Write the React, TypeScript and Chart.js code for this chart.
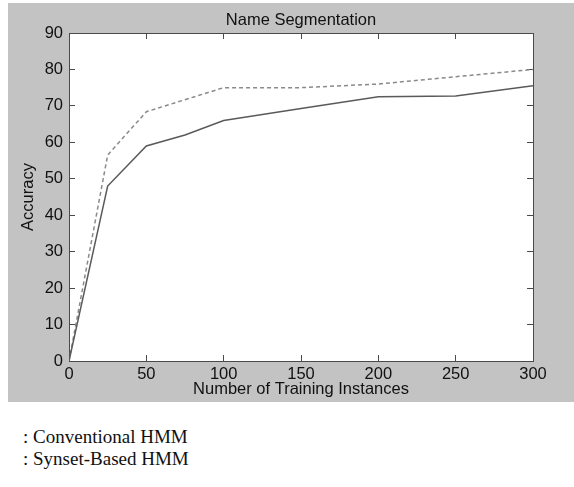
import React, { useEffect, useRef } from "react";
import { Chart, registerables } from "chart.js";

Chart.register(...registerables);

const chartTitle = "Name Segmentation";
const xAxisTitle = "Number of Training Instances";
const yAxisTitle = "Accuracy";

const conventionalX = [0, 25, 50, 75, 100, 150, 200, 250, 300];
const conventionalY = [0, 48, 59, 62, 66, 69.3, 72.5, 72.7, 75.5];

const synsetX = [0, 25, 50, 100, 150, 200, 250, 300];
const synsetY = [0, 56.5, 68.4, 75, 75, 76, 78, 80];

const legendLabels = [": Conventional HMM", ": Synset-Based HMM"];

const xMin = 0;
const xMax = 300;
const xStep = 50;
const yMin = 0;
const yMax = 90;
const yStep = 10;

const SANS = '"Liberation Sans", Arial, Helvetica, sans-serif';
const FRAME = "#4a4a4a";

const plotBg = {
  id: "plotBg",
  beforeDraw(chart: any) {
    const { ctx, chartArea } = chart;
    ctx.save();
    ctx.fillStyle = "#ffffff";
    ctx.fillRect(chartArea.left, chartArea.top, chartArea.right - chartArea.left, chartArea.bottom - chartArea.top);
    ctx.restore();
  },
};

export default function App() {
  const ref = useRef<HTMLCanvasElement | null>(null);

  useEffect(() => {
    if (!ref.current) return;
    const font = { family: SANS, size: 16.5 };
    const chart = new Chart(ref.current, {
      type: "line",
      data: {
        datasets: [
          {
            label: "Conventional HMM",
            data: conventionalX.map((x, i) => ({ x, y: conventionalY[i] })),
            borderColor: "#5a5a5a",
            borderWidth: 1.5,
            pointRadius: 0,
            tension: 0,
            fill: false,
          },
          {
            label: "Synset-Based HMM",
            data: synsetX.map((x, i) => ({ x, y: synsetY[i] })),
            borderColor: "#8a8a8a",
            borderWidth: 1.5,
            borderDash: [4, 3],
            pointRadius: 0,
            tension: 0,
            fill: false,
          },
        ],
      },
      options: {
        responsive: false,
        animation: false,
        devicePixelRatio: 1,
        layout: { padding: { left: 0, right: 41, top: 0, bottom: 0 } },
        plugins: {
          legend: { display: false },
          tooltip: { enabled: false },
          title: {
            display: true,
            text: chartTitle,
            fullSize: false,
            color: "#111",
            font: { family: SANS, size: 16.5, weight: "normal" },
            padding: { top: 7.6, bottom: 2.6 },
          },
        },
        scales: {
          x: {
            type: "linear",
            position: "bottom",
            min: xMin,
            max: xMax,
            ticks: { stepSize: xStep, color: "#111", font, padding: 10, maxRotation: 0 },
            grid: { drawOnChartArea: false, tickLength: -6, color: FRAME },
            border: { color: FRAME, width: 1 },
            title: {
              display: true,
              text: xAxisTitle,
              color: "#111",
              font,
              padding: { top: 0, bottom: 3.1 },
            },
            afterFit: (s: any) => {
              s.height = 41;
            },
          },
          x2: {
            type: "linear",
            position: "top",
            min: xMin,
            max: xMax,
            ticks: { stepSize: xStep, display: false },
            grid: { drawOnChartArea: false, tickLength: -6, color: FRAME },
            border: { color: FRAME, width: 1 },
            afterFit: (s: any) => {
              s.height = 0;
            },
          },
          y: {
            type: "linear",
            position: "left",
            min: yMin,
            max: yMax,
            ticks: { stepSize: yStep, color: "#111", font, padding: 12 },
            grid: { drawOnChartArea: false, tickLength: -6, color: FRAME },
            border: { color: FRAME, width: 1 },
            title: {
              display: true,
              text: yAxisTitle,
              color: "#111",
              font,
              padding: { top: 10.1, bottom: 0 },
            },
            afterFit: (s: any) => {
              s.width = 61;
            },
          },
          y2: {
            type: "linear",
            position: "right",
            min: yMin,
            max: yMax,
            ticks: { stepSize: yStep, display: false },
            grid: { drawOnChartArea: false, tickLength: -6, color: FRAME },
            border: { color: FRAME, width: 1 },
            afterFit: (s: any) => {
              s.width = 0;
            },
          },
        },
      },
      plugins: [plotBg],
    } as any);
    return () => chart.destroy();
  }, []);

  return (
    <div style={{ position: "absolute", left: 0, top: 0, width: 574, height: 487, background: "#fff" }}>
      <div style={{ position: "absolute", left: 8, top: 3, width: 566, height: 399, background: "#c3c3c3" }}>
        <canvas ref={ref} width={566} height={399} style={{ display: "block", width: 566, height: 399 }} />
      </div>
      {legendLabels.map((t, i) => (
        <div
          key={t}
          style={{
            position: "absolute",
            left: 23,
            top: 426 + i * 22,
            fontFamily: '"Liberation Serif", "Times New Roman", serif',
            fontSize: 19,
            lineHeight: "22px",
            color: "#111",
            whiteSpace: "nowrap",
          }}
        >
          {t}
        </div>
      ))}
    </div>
  );
}
